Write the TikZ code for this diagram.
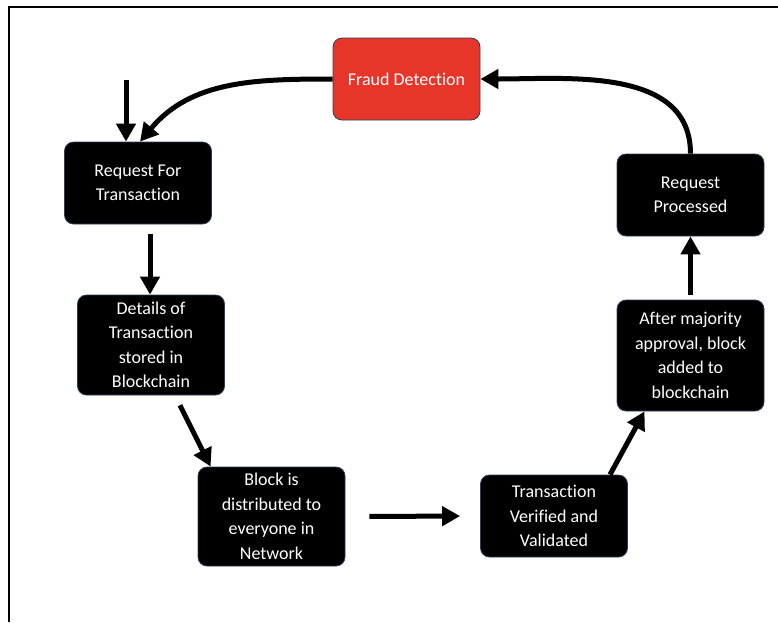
\documentclass[tikz,border=0pt]{standalone}
\usepackage{fontspec}
\setmainfont[Ligatures=NoCommon]{Carlito}
\usetikzlibrary{arrows.meta,positioning,shapes}

\definecolor{frauded}{HTML}{E8352A}
\definecolor{boxline}{HTML}{2F3E5C}

\tikzset{
    stepbox/.style={draw=boxline, line width=0.8pt, fill=black, text=white, rounded corners=9pt,
        minimum width=147pt, align=center, font=\fontsize{18}{24.5}\selectfont},
    arr/.style={line width=5pt, -{Triangle[length=18pt,width=19pt]}}
}

\begin{document}
\begin{tikzpicture}[x=1pt, y=-1pt]
    \useasboundingbox (0,0) rectangle (778,622);

    % Frame
    \draw[line width=2pt] (9,622) -- (9,7) -- (778,7);

    % Fraud Detection
    \node[stepbox, fill=frauded, minimum height=82pt] (fraud) at (406.5,79) {Fraud Detection};

    % Left column
    \node[stepbox, minimum height=82pt] (req) at (138,183) {Request For\\Transaction};
    \node[stepbox, minimum height=100pt] (det) at (151,345) {Details of\\Transaction\\stored in\\Blockchain};
    \node[stepbox, minimum height=99pt] (blk) at (271.5,516.5) {Block is\\distributed to\\everyone in\\Network};

    % Right column
    \node[stepbox, minimum height=82pt] (ver) at (554,516) {Transaction\\Verified and\\Validated};
    \node[stepbox, minimum height=111pt] (aft) at (690.5,355.5) {After majority\\approval, block\\added to\\blockchain};
    \node[stepbox, minimum height=82pt] (proc) at (690.5,195) {Request\\Processed};

    % Entry arrow
    \coordinate (entry) at (126,80);
    \draw[arr] (entry) -- (entry |- req.north);

    \draw[arr] (fraud.west) to[out=180, in=50] ([xshift=2pt]req.north);
    \draw[arr, shorten <=10pt] ([xshift=12pt]req.south) -- ([xshift=-1pt]det.north);
    \draw[arr, shorten <=11pt] ([xshift=24pt]det.south) -- ([xshift=13pt]blk.north west);
    \draw[arr, shorten <=24pt, shorten >=20pt] (blk.east) -- (ver.west);
    \draw[arr] ([xshift=56pt]ver.north) -- ([xshift=-46pt]aft.south);
    \draw[arr, shorten <=5pt] (aft.north) -- (proc.south);
    \draw[arr] (proc.north) to[out=90, in=0] (fraud.east);

\end{tikzpicture}
\end{document}
